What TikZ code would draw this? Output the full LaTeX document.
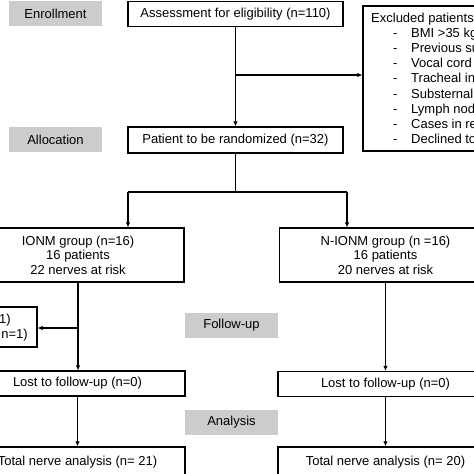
\documentclass[tikz,border=0pt]{standalone}
\usepackage{fontspec}
\setmainfont{Liberation Sans}
\usetikzlibrary{arrows.meta}
\definecolor{labgray}{RGB}{204,204,204}
\newcommand\exitem[1]{\makebox[40pt][l]{\hspace*{22pt}-}#1}
\begin{document}
\begin{tikzpicture}[x=1pt,y=-1pt,
  font=\fontsize{13}{14.6}\selectfont,
  box/.style={draw, line width=1.2pt, inner sep=0pt, align=center},
  lab/.style={fill=labgray, inner sep=0pt, minimum width=93pt, minimum height=25pt},
  arr/.style={line width=1.1pt, -{Latex[length=5pt,width=4.5pt]}},
  ln/.style={line width=1.1pt}]
\useasboundingbox (0,0) rectangle (474,474);
\clip (0,0) rectangle (474,474);

\node[lab] (enr) at (55.5,13.5) {Enrollment};
\node[box, minimum width=215pt, minimum height=25pt] (assess) at (235.5,13.75) {Assessment for eligibility (n=110)};
\node[box, minimum width=220pt, minimum height=145pt] (excl) at (473,78.5) {};
\node[anchor=base west, inner sep=0pt, font=\fontsize{13}{15.1}\selectfont] (excltxt) at (371,22.5) {\begin{tabular}[t]{@{}l@{}}Excluded patients\\
\exitem{BMI >35 kg}\\
\exitem{Previous su}\\
\exitem{Vocal cord}\\
\exitem{Tracheal in}\\
\exitem{Substernal}\\
\exitem{Lymph nod}\\
\exitem{Cases in re}\\
\exitem{Declined to}\end{tabular}};

\node[lab] (alloc) at (55.5,139.5) {Allocation};
\node[box, minimum width=215pt, minimum height=26pt] (rand) at (235.5,140) {Patient to be randomized (n=32)};

\node[box, minimum width=212pt, minimum height=54pt] (ionm) at (78,255) {IONM group (n=16)\\16 patients\\22 nerves at risk};
\node[box, minimum width=212pt, minimum height=54pt] (nionm) at (385.5,255) {N-IONM group (n =16)\\16 patients\\20 nerves at risk};

\node[box, minimum width=97pt, minimum height=40pt] (excl2) at (-11.5,327) {};
\node[anchor=east, inner sep=0pt, font=\fontsize{13}{15}\selectfont] (excl2txt) at (28,327.5) {\begin{tabular}{@{}r@{}}1)\hspace*{17pt}\\n=1)\end{tabular}};

\node[lab] (fu) at (231.5,325) {Follow-up};
\node[box, minimum width=215pt, minimum height=25pt] (lostL) at (77.5,383.5) {Lost to follow-up (n=0)};
\node[box, minimum width=215pt, minimum height=25pt] (lostR) at (385.5,384) {Lost to follow-up (n=0)};

\node[lab] (ana) at (231.5,422.5) {Analysis};
\node[box, minimum width=215pt, minimum height=30pt] (totL) at (77.5,462) {Total nerve analysis (n= 21)};
\node[box, minimum width=215pt, minimum height=30pt] (totR) at (385.5,462) {Total nerve analysis (n= 20)};

\coordinate (b1) at (235.5,75);
\coordinate (b2) at (235.5,192);
\coordinate (l2) at (128,192);
\coordinate (r2) at (347,192);
\coordinate (b3) at (78,328);

\draw[arr] (assess.south) -- (rand.north);
\draw[arr] (b1) -- (b1 -| excl.west);
\draw[ln] (rand.south) -- (b2);
\draw[ln] (l2) -- (r2);
\draw[arr] (l2) -- (l2 |- ionm.north);
\draw[arr] (r2) -- (r2 |- nionm.north);
\draw[arr] (ionm.south) -- (ionm.south |- lostL.north);
\draw[arr] (b3) -- (b3 -| excl2.east);
\draw[arr] (nionm.south) -- (nionm.south |- lostR.north);
\draw[arr] (lostL.south) -- (totL.north);
\draw[arr] (lostR.south) -- (totR.north);
\end{tikzpicture}
\end{document}
